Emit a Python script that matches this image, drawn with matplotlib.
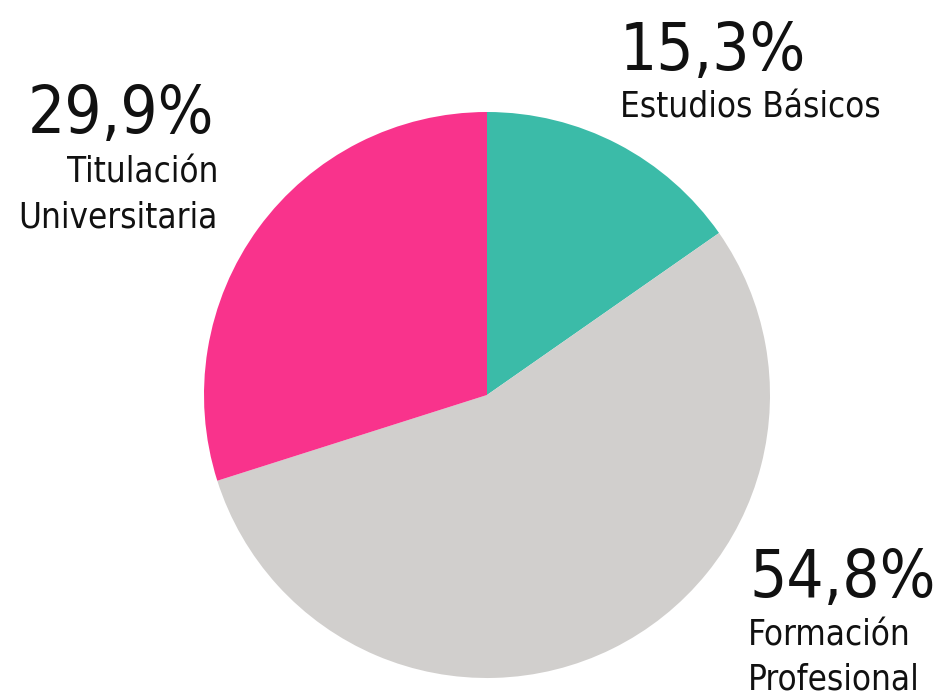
import matplotlib
matplotlib.use("Agg")
import matplotlib.pyplot as plt
from matplotlib import font_manager

# data
categorias = ["Estudios Básicos", "Formación\nProfesional", "Titulación\nUniversitaria"]
valores = [15.3, 54.8, 29.9]
etiquetas = ["15,3%", "54,8%", "29,9%"]
colores = ["#3BBBA8", "#D1CFCD", "#F9338C"]

names = {f.name for f in font_manager.fontManager.ttflist}
if "Liberation Sans Narrow" in names:
    fam = ["Liberation Sans Narrow", "DejaVu Sans"]
    stretch = "normal"
else:
    fam = ["DejaVu Sans"]
    stretch = "condensed"

W, H = 938, 697
fig = plt.figure(figsize=(W / 100, H / 100), dpi=100)
ax = fig.add_axes([0, 0, 1, 1])

ax.pie(valores, colors=colores, startangle=90, counterclock=False,
       center=(487, H - 395), radius=283, frame=True,
       wedgeprops=dict(linewidth=0))
ax.set_xlim(0, W)
ax.set_ylim(0, H)
ax.set_aspect("equal")
ax.axis("off")

big = dict(fontsize=47, family=fam, stretch=stretch, color="#111111", va="baseline")
small = dict(fontsize=25, family=fam, stretch=stretch, color="#111111", va="baseline",
             linespacing=1.4)

# Estudios Básicos (top right)
ax.text(620, H - 70, etiquetas[0], ha="left", **big)
ax.text(620, H - 117, categorias[0], ha="left", **small)

# Formación Profesional (bottom right)
ax.text(749, H - 597, etiquetas[1], ha="left", **big)
ax.text(748, H - 690, categorias[1], ha="left", multialignment="left", **small)

# Titulación Universitaria (top left)
ax.text(214, H - 133, etiquetas[2], ha="right", **big)
ax.text(218, H - 227, categorias[2], ha="right", multialignment="right", **small)

fig.savefig("out.png", dpi=100, facecolor="white")
